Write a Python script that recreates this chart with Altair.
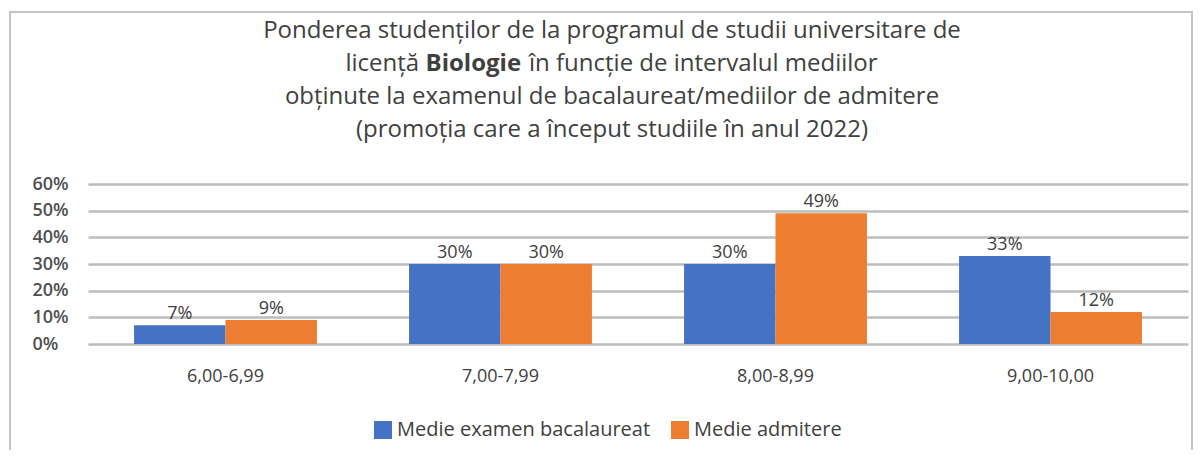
import altair as alt
import pandas as pd

categories = ["6,00-6,99", "7,00-7,99", "8,00-8,99", "9,00-10,00"]
series_names = ["Medie examen bacalaureat", "Medie admitere"]
bac_values = [0.07, 0.30, 0.30, 0.33]
adm_values = [0.09, 0.30, 0.49, 0.12]
colors = ["#4472C4", "#ED7D31"]
y_ticks = [0, 0.1, 0.2, 0.3, 0.4, 0.5, 0.6]

rows = []
for c, b, a in zip(categories, bac_values, adm_values):
    rows.append({"interval": c, "serie": series_names[0], "pondere": b})
    rows.append({"interval": c, "serie": series_names[1], "pondere": a})
df = pd.DataFrame(rows)

FONT = "Open Sans"
TXT = "#404040"

x_enc = alt.X("interval:N", sort=categories,
              scale=alt.Scale(paddingInner=0.335, paddingOuter=0.1675),
              axis=alt.Axis(title=None, labelAngle=0, domain=False, ticks=False,
                            labelPadding=23, labelFontSize=18, labelColor=TXT, labelFont=FONT))
xo_enc = alt.XOffset("serie:N", sort=series_names, scale=alt.Scale(paddingInner=0, paddingOuter=0))
y_enc = alt.Y("pondere:Q", scale=alt.Scale(domain=[0, 0.6]),
              axis=alt.Axis(title=None, format=".0%", values=y_ticks, labelOverlap=False,
                            domain=False, ticks=False, labelAlign="left", labelPadding=56,
                            labelFontSize=18, labelColor="#505050", labelFont=FONT, labelFontWeight=600,
                            grid=True, gridColor="#bcbcbc", gridWidth=2.5))

bars = alt.Chart(df).mark_bar(strokeWidth=0).encode(
    x=x_enc, xOffset=xo_enc, y=y_enc,
    color=alt.Color("serie:N", sort=series_names,
                    scale=alt.Scale(domain=series_names, range=colors),
                    legend=alt.Legend(title=None, orient="none", direction="horizontal",
                                      legendX=285, legendY=236, symbolType="square",
                                      symbolSize=324, symbolStrokeWidth=0, labelFontSize=20,
                                      labelColor=TXT, labelFont=FONT, columnPadding=19,
                                      labelOffset=4, labelLimit=400)),
)

labels = alt.Chart(df).mark_text(baseline="bottom", dy=-2, fontSize=18, color=TXT, font=FONT).encode(
    x=x_enc, xOffset=xo_enc, y=y_enc,
    text=alt.Text("pondere:Q", format=".0%"),
)

title_df = pd.DataFrame({"k": [0]})
def ttext(txt, x, y, align="center", weight="normal"):
    return alt.Chart(title_df).mark_text(text=txt, align=align, baseline="middle", fontSize=24,
                                         color=TXT, font=FONT, fontWeight=weight).encode(
        x=alt.value(x), y=alt.value(y))

title_layers = [
    ttext("Ponderea studenților de la programul de studii universitare de", 524, -153),
    ttext("licență", 331.2, -120, align="right"),
    ttext("Biologie", 337.5, -120, align="left", weight="bold"),
    ttext("în funcție de intervalul mediilor", 441.0, -120, align="left"),
    ttext("obținute la examenul de bacalaureat/mediilor de admitere", 524, -87),
    ttext("(promoția care a început studiile în anul 2022)", 524, -54),
]

frame = alt.Chart(title_df).mark_rect(fill="white", fillOpacity=0, stroke="#c4c4c4", strokeWidth=2).encode(
    x=alt.value(-78), x2=alt.value(1104), y=alt.value(-172), y2=alt.value(300))

chart = alt.layer(frame, bars, labels, *title_layers).properties(
    width=1100, height=160,
    autosize=alt.AutoSizeParams(type="none"),
    padding={"left": 80, "top": 176, "right": 6, "bottom": 106},
    background="white",
).configure_view(stroke=None)

chart.save("out.html", embed_options={"renderer": "svg", "actions": False})
